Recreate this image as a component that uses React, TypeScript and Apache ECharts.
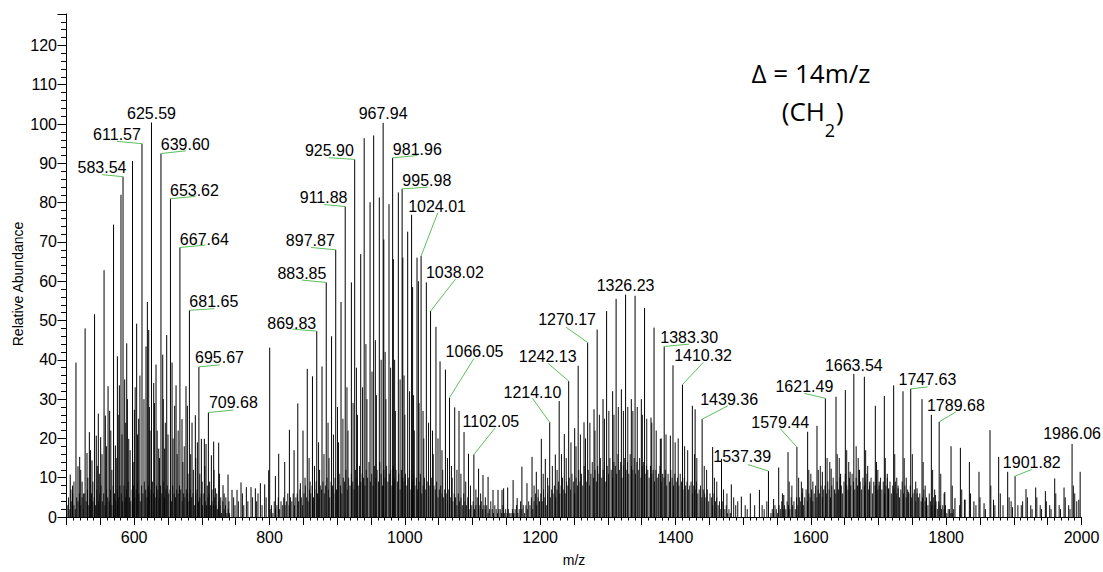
import React, { useEffect, useRef } from 'react';
import * as echarts from 'echarts';

// Annotated peaks: m/z and relative abundance
const labeledMz = [
  583.54, 611.57, 625.59, 639.6, 653.62, 667.64, 681.65, 695.67, 709.68,
  869.83, 883.85, 897.87, 911.88, 925.9, 967.94, 981.96, 995.98, 1024.01, 1038.02, 1066.05, 1102.05,
  1214.1, 1242.13, 1270.17, 1326.23, 1383.3, 1410.32, 1439.36,
  1537.39, 1579.44, 1621.49, 1663.54, 1747.63, 1789.68, 1901.82, 1986.06,
];
const labeledAb = [
  86.6, 95.0, 100.4, 92.5, 81.0, 68.6, 52.6, 38.2, 26.6,
  47.3, 59.7, 68.0, 79.0, 91.0, 100.3, 91.4, 83.5, 66.4, 52.4, 30.4, 15.9,
  24.1, 34.6, 44.4, 56.6, 43.4, 33.7, 24.9,
  11.7, 17.8, 30.2, 36.4, 32.6, 24.2, 10.4, 18.6,
];

// Unlabelled peaks [m/z, abundance], by region
const peaksLow: [number, number][] = [
  [505.5, 10.8], [509, 8], [514, 39.3], [517, 12.9], [519.5, 15.3], [523, 9], [527.48, 48], [530.3, 16.3],
  [533.8, 21.6], [537.7, 14.4], [541.49, 51.6], [544, 20.7], [547, 26.3], [550.5, 20.3], [555.51, 62.8],
  [557.4, 25.8], [561.4, 33.3], [563.8, 27], [569.53, 74.4], [572.2, 18.2], [575.2, 40.9], [578.1, 33.5],
  [580.5, 82], [586, 35], [589, 44.2], [592, 19.9], [597.56, 90.6], [600.3, 27.3], [603.7, 49.2],
  [606.7, 25], [617.5, 43.4], [619.5, 54.7], [621.5, 47.6], [628.9, 34.1], [632.3, 38.8], [636.3, 17.4],
  [642.2, 41.3], [645.1, 17.4], [648.1, 46.3], [656, 39.3], [659.9, 28.3], [661.9, 33.5], [670.7, 24.9],
  [676.6, 33.3], [678.6, 28.3], [685.5, 24], [690.4, 25.9], [693.4, 19], [699.3, 19.9], [703.7, 19.9],
  [706.2, 18.6], [714.1, 15.7], [717.5, 19.2], [720, 7.3], [724.9, 18.9], [731.3, 8.1], [738.7, 10.8],
  [744.6, 6.9], [752, 6.9], [757.9, 8.8], [765.8, 7.6], [772.7, 7.6], [779.1, 7.3], [786.5, 8.6],
  [792.9, 8.3], [798.8, 11.9], [800.3, 43.1], [808.7, 10.4], [813.6, 16.1], [822.5, 14], [829.4, 22.2],
  [836.3, 17], [841.8, 28.9], [845.6, 8.6],
];
const peaksMid: [number, number][] = [
  [849.5, 22], [855.81, 37.7], [863.5, 35.8], [877.6, 38.3], [891.7, 46], [905.7, 54.7], [921, 59.7],
  [934.8, 66.9], [939.92, 96.4], [948.6, 80.1], [953.93, 97.1], [962.3, 81.3], [968.9, 70.6], [976.6, 79.6],
  [983, 65.6], [990.4, 82.6], [997, 66], [1004.2, 72.6], [1009.99, 76.9], [1011.5, 58.5], [1018, 66],
  [1020, 60], [1031.8, 59.7], [1046, 48.4], [1052.03, 39.6], [1060, 37.5], [1073.7, 27.9], [1080.06, 27],
  [1087.5, 21.6], [1094.08, 16.1], [1109, 12.3], [1115.5, 10.7], [1123, 10.2], [1130.3, 6.9], [1137.7, 6.9],
  [1143.6, 6.9], [1146, 7.3], [1152, 7.5],
];
const peaksHigh: [number, number][] = [
  [1160, 9.4], [1166, 4.8], [1173, 12.8], [1180.5, 8.6], [1188, 15.3], [1194.3, 11.5], [1201.7, 19.9],
  [1207.6, 14.8], [1222.4, 15.9], [1228.11, 29.5], [1235.7, 21.1], [1251, 22.6], [1256.15, 38.5],
  [1264.8, 24.1], [1279.6, 27.4], [1284.2, 47.7], [1292.9, 30], [1298.2, 52.4], [1307.1, 32], [1312.21, 55.5],
  [1320, 32.5], [1334.7, 30], [1340.25, 56.3], [1349.5, 30], [1354.27, 53.2], [1363.8, 25.3], [1368.28, 48.2],
  [1377.6, 19.9], [1392.4, 20.7], [1396.3, 38.6], [1424.9, 28.3], [1429, 27.4], [1454.9, 17.8], [1468, 14.8],
  [1482.5, 8.3], [1497.3, 5.2], [1510.6, 6], [1524, 6.9],
];
const peaksTail: [number, number][] = [
  [1545, 4.6], [1552.5, 12.6], [1560, 5.6], [1566.3, 16.5], [1588, 7.3], [1595.3, 21.7], [1603, 9],
  [1609.1, 23.2], [1617, 11.5], [1630, 12.3], [1637.2, 30.6], [1644, 11], [1651, 32.3], [1658, 11.5],
  [1672, 12], [1679.1, 35.7], [1687, 9], [1695.3, 28.3], [1701, 9], [1708.6, 30.8], [1715, 7.3],
  [1722.4, 33.5], [1729, 7.3], [1736.2, 32], [1744, 6.4], [1757, 7.3], [1764.3, 30], [1771, 4.8],
  [1778.1, 26], [1784, 5.6], [1798, 6.4], [1807.2, 18], [1813, 4.8], [1821, 17.6], [1828, 4.4],
  [1834.3, 14], [1841, 4], [1848.5, 11.5], [1856, 3.5], [1864.8, 22.1], [1870, 4.4], [1877.6, 15.3],
  [1890.9, 11.5], [1918, 7.1], [1932.3, 7.5], [1946.6, 6.6], [1960.4, 9.8], [1974.2, 7.5], [1998, 11.5],
];

// Smaller side peaks between the main series
const sideLow: [number, number][] = [
  [506.5, 7], [511, 9], [521, 12], [525, 6], [531.5, 10], [535.5, 17], [539, 9], [545.5, 13], [548.5, 11],
  [552.5, 16], [559, 18], [565.5, 22], [567, 12], [573.5, 15], [576.5, 26], [582, 21], [587.5, 24], [590, 30],
  [594, 17], [599.5, 14], [601.5, 33], [605, 21], [608.5, 36], [614.5, 30], [622.5, 28], [623.5, 22],
  [630, 29], [634, 22], [637.5, 15], [643, 30], [646, 24], [650, 21], [657.5, 20], [663.5, 16], [665, 22],
  [672, 14], [674, 18], [679.5, 11], [683.5, 16], [687.5, 12], [691, 15], [697, 11], [700.5, 9], [704.5, 13],
  [708, 8], [711.5, 9], [715, 7], [718, 12], [722, 6], [726, 11], [728, 5], [733, 6], [735.5, 5], [740, 4],
  [747, 5], [749, 3], [754, 4], [760, 6], [762, 3], [768, 4], [775, 5], [781, 4], [783, 6], [789, 3], [795, 5],
];
const sideMid: [number, number][] = [
  [852.5, 10], [858.5, 15], [860, 9], [866.5, 13], [872.5, 19], [874, 12], [880.5, 16], [886.5, 24], [888, 15],
  [894.5, 21], [900.5, 28], [902, 19], [908.5, 25], [914.5, 33], [916, 22], [923.5, 29], [928.5, 38], [930, 26],
  [937.5, 33], [942.5, 44], [944, 30], [951.5, 37], [956.5, 45], [958, 31], [965, 40], [970.9, 42], [972, 30],
  [979, 38], [984.9, 40], [986, 27], [993, 35], [998.9, 36], [1000, 26], [1007, 32], [1012.9, 31], [1014, 22],
  [1021, 29], [1026.9, 27], [1028, 20], [1035, 24], [1040.9, 22], [1042, 16], [1049, 20], [1054.9, 17],
  [1056, 12], [1063, 15], [1068.9, 13], [1070, 10], [1077, 12], [1082.9, 11], [1090, 9], [1097, 8],
  [1105, 7], [1112, 6], [1119, 5],
];
const sideHigh: [number, number][] = [
  [1191, 8], [1197, 7], [1204.5, 11], [1211, 10], [1218, 13], [1225, 12], [1231.5, 16], [1238.5, 15],
  [1245.5, 19], [1253, 18], [1259.5, 21], [1267, 20], [1273.5, 24], [1281, 22], [1287.5, 26], [1295, 25],
  [1301.5, 27], [1309, 26], [1315.5, 28], [1323, 27], [1329.5, 28], [1337, 27], [1343.5, 28], [1351, 26],
  [1357.5, 25], [1365, 24], [1371.5, 22], [1379, 20], [1386, 21], [1399.5, 19], [1404, 20], [1413.5, 18],
  [1418, 17], [1428, 16], [1431.5, 15], [1442.5, 13], [1446, 12], [1457.5, 10], [1461, 9], [1471, 7],
  [1476, 6], [1486, 5], [1489, 3], [1492, 4], [1503, 3], [1506, 2], [1517, 3], [1528, 3], [1531, 2], [1535, 4],
];
const sideTail: [number, number][] = [
  [1558, 6], [1568, 9], [1572, 8], [1582, 10], [1586, 9], [1597, 12], [1600, 11], [1611, 12], [1614, 13],
  [1624, 15], [1628, 14], [1639, 16], [1642, 15], [1653, 17], [1656, 14], [1667, 18], [1670, 15], [1681, 17],
  [1684, 13], [1697, 14], [1699, 12], [1710, 15], [1713, 11], [1724, 16], [1727, 10], [1738, 15], [1741, 10],
  [1750, 16], [1755, 9], [1766, 14], [1769, 8], [1780, 12], [1783, 7], [1792, 11], [1797, 6], [1809, 8],
  [1820, 3], [1823, 7], [1827, 4.4], [1836, 6], [1844, 3], [1850, 5], [1858, 2], [1866, 8], [1872, 3],
  [1880, 6], [1884, 3], [1893, 5], [1896, 4], [1898, 2.5], [1906, 3], [1911, 3], [1913, 4], [1920, 5],
  [1925, 3], [1927, 2], [1934, 5], [1939, 3], [1941, 2], [1948, 4], [1953, 3], [1955, 2], [1962, 6],
  [1967, 3], [1969, 2], [1976, 5], [1981, 3], [1983, 2], [1988, 8], [1990, 6], [1993, 4], [1996, 4.4],
];

// Dense low-level signal, sampled every 2 m/z from each start value
const floorStep = 2;
const floorAStart = 501;
const floorA = [
  3, 5, 2, 4, 6, 3, 2, 5, 4, 6, 3, 5, 2, 6, 4, 7, 3, 5, 6, 4, 5, 3, 7, 4, 6, 8, 4, 6, 3, 7,
  5, 4, 7, 3, 8, 6, 4, 7, 5, 8, 6, 4, 8, 5, 7, 9, 5, 4, 7, 8, 5, 7, 9, 6, 4, 8, 6, 9, 7, 5,
  8, 6, 7, 9, 6, 5, 8, 7, 5, 8, 6, 9, 5, 7, 8, 6, 7, 4, 8, 6, 5, 7, 6, 8, 7, 4, 6, 5, 7, 6,
  4, 7, 5, 6, 3, 6, 7, 4, 5, 6, 3, 6, 4, 3, 5, 6, 3, 4, 3, 5, 3, 2, 4, 3, 1, 4, 2, 3, 1, 2, 1,
];
const floorBStart = 801;
const floorB = [
  2, 3, 1, 4, 2, 3, 5, 2, 4, 3, 5, 3, 4, 6, 3, 5, 4, 6, 3, 5, 6, 4, 7, 5, 3, 6, 8, 5, 4, 7,
  6, 8, 5, 7, 9, 6, 5, 8, 7, 9, 6, 8, 10, 7, 5, 9, 8, 6, 10, 7, 9, 11, 8, 6, 10, 9, 12, 7, 10, 8,
  11, 9, 7, 12, 10, 8, 13, 9, 11, 10, 8, 12, 10, 14, 9, 11, 8, 13, 10, 12, 9, 14, 11, 8, 12, 10, 13, 9, 11, 12,
  8, 13, 10, 12, 9, 11, 7, 12, 10, 9, 11, 8, 10, 12, 7, 9, 11, 8, 10, 7, 9, 11, 6, 8, 10, 7, 9, 6, 8, 10,
  6, 8, 7, 9, 5, 7, 8, 6, 5, 7, 6, 4, 7, 5, 6, 4, 6, 5, 3, 6, 4, 5, 3, 6, 4, 3, 5, 2, 4, 3,
  4, 2, 3, 5, 2, 3, 4, 2, 3, 2, 3, 1, 2, 4, 2, 1, 3, 2, 1, 2, 2, 1, 3, 1, 2, 1, 2, 1, 1, 2, 1,
];
const floorCStart = 1161;
const floorC = [
  1, 2, 3, 1, 2, 4, 2, 3, 1, 3, 2, 4, 3, 5, 2, 4, 6, 3, 5, 4, 6, 4, 7, 5, 3, 6, 8, 5, 7, 6,
  8, 5, 7, 9, 6, 8, 10, 7, 6, 9, 8, 10, 7, 11, 9, 6, 10, 8, 12, 9, 11, 8, 13, 10, 9, 12, 8, 11, 14, 10,
  12, 9, 13, 11, 15, 10, 12, 14, 9, 13, 11, 15, 12, 10, 14, 13, 11, 16, 12, 14, 10, 13, 15, 12, 14, 11, 16, 13, 12, 15,
  11, 14, 12, 15, 10, 13, 14, 11, 13, 12, 10, 13, 11, 12, 9, 12, 10, 11, 13, 9, 11, 10, 12, 8, 11, 9, 12, 10, 8, 11,
  9, 10, 8, 11, 9, 7, 10, 8, 9, 7, 8, 9, 6, 8, 7, 9, 6, 7, 8, 5, 7, 6, 5, 7, 4, 6, 5, 3, 6, 4,
  5, 3, 4, 2, 4, 3, 2, 3, 1, 2, 1,
];
const floorDStart = 1541;
const floorD = [
  1, 2, 1, 3, 2, 1, 3, 2, 4, 2, 3, 2, 4, 3, 2, 5, 3, 4, 2, 5, 3, 5, 4, 6, 3, 5, 7, 4, 6, 5,
  7, 4, 6, 8, 5, 7, 6, 8, 5, 7, 8, 6, 9, 7, 5, 8, 10, 7, 6, 9, 7, 10, 8, 6, 9, 11, 8, 7, 10, 8,
  11, 9, 7, 10, 8, 12, 9, 7, 10, 8, 9, 11, 7, 8, 10, 6, 9, 8, 10, 7, 8, 10, 7, 9, 6, 8, 10, 7, 9, 6,
  8, 7, 9, 6, 8, 5, 7, 9, 6, 8, 5, 7, 6, 8, 5, 6, 7, 4, 6, 5, 6, 4, 5, 7, 4, 5, 3, 6, 4, 3,
  5, 3, 4, 2, 4, 3, 2, 3, 2, 3, 1, 2, 2, 1, 1, 2,
];

// Placement of each annotation relative to its peak top: text centre (dx, dy), leader end (ex, ey)
const labelLayout: Record<string, number[]> = {
  '583.54': [-21, -8.7, -20.7, -2],
  '611.57': [-25, -9, -25, -2.3],
  '625.59': [0, -9.4],
  '639.60': [24.3, -9.3, 25, -2.7],
  '653.62': [24, -8.3, 25, -2.3],
  '667.64': [24.4, -7.7, 25.4, -2.3],
  '681.65': [24.4, -9, 25, -1.6],
  '695.67': [20.6, -9.7, 20.6, -2],
  '709.68': [25, -10, 25, -2.4],
  '869.83': [-25, -7.6, -24.3, -2],
  '883.85': [-24.3, -9.3, -24.3, -2.3],
  '897.87': [-25.4, -9.6, -24.7, -2.3],
  '911.88': [-21.6, -9.3, -21, -2],
  '925.90': [-25.3, -8.4, -25.7, -1.7],
  '967.94': [0, -9.7],
  '981.96': [24.7, -8, 24.7, -2.3],
  '995.98': [24.7, -8.4, 25.4, -1.7],
  '1024.01': [16, -50, 16.7, -43.3],
  '1038.02': [24.3, -39, 25, -32],
  '1066.05': [25, -46, 24.4, -39],
  '1102.05': [17, -32.6, 21.3, -26.6],
  '1214.10': [-17.3, -30, -17.3, -24],
  '1242.13': [-21, -24.3, -20.6, -17.7],
  '1270.17': [-20.6, -22.7, -21.6, -15.3],
  '1326.23': [0, -9],
  '1383.30': [25, -9, 25, -2.3],
  '1410.32': [20.6, -29, 21, -22.3],
  '1439.36': [27, -20, 25.7, -13.3],
  '1537.39': [-26.3, -14.7, -20.6, -6.4],
  '1579.44': [-16.7, -24.4, -16.7, -18.4],
  '1621.49': [-21, -11.6, -21, -5],
  '1663.54': [0, -8.7],
  '1747.63': [16.7, -9.4, 16.7, -2],
  '1789.68': [16.7, -16.7, 16.7, -10],
  '1901.82': [16.7, -13.7, 16.7, -6.7],
  '1986.06': [0, -10],
};

const FONT = '"Liberation Sans", Arial, Helvetica, sans-serif';
const NOTE_FONT = '"Open Sans", "Noto Sans", sans-serif';
const LEADER = '#5cbf5c';

const floorData = (start: number, values: number[]) =>
  values.map((v, i) => [start + i * floorStep, v]);

const stick = (color: string) => (_params: any, api: any) => {
  const x = api.value(0);
  const y = api.value(1);
  const base = api.coord([x, 0]);
  const top = api.coord([x, y]);
  return {
    type: 'line',
    silent: true,
    shape: { x1: base[0], y1: base[1], x2: top[0], y2: top[1] },
    style: { stroke: color, lineWidth: 1 },
  };
};

const stickSeries = (name: string, data: number[][], color: string, z: number) => ({
  type: 'custom',
  name,
  coordinateSystem: 'cartesian2d',
  renderItem: stick(color),
  data,
  z,
  silent: true,
});

export default function App() {
  const ref = useRef<HTMLDivElement>(null);

  useEffect(() => {
    if (!ref.current) return;
    const chart = echarts.init(ref.current, null, { renderer: 'svg' });

    const labeledData = labeledMz.map((m, i) => [m, labeledAb[i]]);

    const option: any = {
      animation: false,
      backgroundColor: '#fff',
      grid: { left: 66.5, right: 21.5, top: 14, bottom: 50, containLabel: false },
      xAxis: {
        type: 'value',
        min: 500,
        max: 2000,
        interval: 50,
        name: 'm/z',
        nameLocation: 'middle',
        nameGap: 36,
        nameTextStyle: { fontFamily: FONT, fontSize: 14, color: '#000' },
        axisLine: { show: true, lineStyle: { color: '#000', width: 1 } },
        axisTick: { show: true, length: 8, lineStyle: { color: '#000' } },
        minorTick: { show: true, splitNumber: 5, length: 3.5, lineStyle: { color: '#000' } },
        splitLine: { show: false },
        axisLabel: {
          interval: 0,
          margin: 12,
          fontFamily: FONT,
          fontSize: 16,
          color: '#000',
          formatter: (v: number) => (v % 200 === 0 ? String(v) : ''),
        },
      },
      yAxis: {
        type: 'value',
        min: 0,
        max: 128,
        interval: 10,
        axisLine: { show: true, lineStyle: { color: '#000', width: 1 } },
        axisTick: { show: true, length: 9, lineStyle: { color: '#000' } },
        minorTick: { show: true, splitNumber: 5, length: 5.5, lineStyle: { color: '#000' } },
        splitLine: { show: false },
        axisLabel: {
          margin: 9.5,
          fontFamily: FONT,
          fontSize: 16,
          color: '#000',
          formatter: (v: number) => (v % 10 === 0 ? String(v) : ''),
        },
      },
      series: [
        stickSeries('floorA', floorData(floorAStart, floorA), '#1e1e1e', 1),
        stickSeries('floorB', floorData(floorBStart, floorB), '#1e1e1e', 1),
        stickSeries('floorC', floorData(floorCStart, floorC), '#1e1e1e', 1),
        stickSeries('floorD', floorData(floorDStart, floorD), '#1e1e1e', 1),
        stickSeries('sideLow', sideLow, '#111', 2),
        stickSeries('sideMid', sideMid, '#111', 2),
        stickSeries('sideHigh', sideHigh, '#111', 2),
        stickSeries('sideTail', sideTail, '#111', 2),
        stickSeries('peaksLow', peaksLow, '#000', 3),
        stickSeries('peaksMid', peaksMid, '#000', 3),
        stickSeries('peaksHigh', peaksHigh, '#000', 3),
        stickSeries('peaksTail', peaksTail, '#000', 3),
        {
          type: 'custom',
          name: 'labeled',
          coordinateSystem: 'cartesian2d',
          data: labeledData,
          z: 4,
          silent: true,
          renderItem: (params: any, api: any) => {
            const x = api.value(0);
            const y = api.value(1);
            const base = api.coord([x, 0]);
            const top = api.coord([x, y]);
            const text = labeledMz[params.dataIndex].toFixed(2);
            const lay = labelLayout[text] || [0, -10];
            const children: any[] = [
              {
                type: 'line',
                shape: { x1: base[0], y1: base[1], x2: top[0], y2: top[1] },
                style: { stroke: '#000', lineWidth: 1 },
              },
            ];
            if (lay.length === 4) {
              children.push({
                type: 'line',
                shape: { x1: top[0], y1: top[1], x2: top[0] + lay[2], y2: top[1] + lay[3] },
                style: { stroke: LEADER, lineWidth: 1 },
              });
            }
            children.push({
              type: 'text',
              x: top[0] + lay[0],
              y: top[1] + lay[1],
              style: {
                text,
                fontFamily: FONT,
                fontSize: 16,
                fill: '#000',
                align: 'center',
                verticalAlign: 'middle',
              },
            });
            return { type: 'group', children };
          },
        },
      ],
      graphic: [
        {
          type: 'text',
          x: 18,
          y: 284,
          rotation: Math.PI / 2,
          style: {
            text: 'Relative Abundance',
            fontFamily: FONT,
            fontSize: 14,
            fill: '#000',
            align: 'center',
            verticalAlign: 'middle',
          },
        },
        {
          type: 'text',
          x: 811,
          y: 73,
          style: {
            text: 'Δ = 14m/z',
            fontFamily: NOTE_FONT,
            fontSize: 26,
            fill: '#000',
            align: 'center',
            verticalAlign: 'middle',
          },
        },
        {
          type: 'text',
          x: 825,
          y: 111,
          style: {
            text: '(CH',
            fontFamily: NOTE_FONT,
            fontSize: 26,
            fill: '#000',
            align: 'right',
            verticalAlign: 'middle',
          },
        },
        {
          type: 'text',
          x: 830,
          y: 130,
          style: {
            text: '2',
            fontFamily: NOTE_FONT,
            fontSize: 18,
            fill: '#000',
            align: 'center',
            verticalAlign: 'middle',
          },
        },
        {
          type: 'text',
          x: 836,
          y: 111,
          style: {
            text: ')',
            fontFamily: NOTE_FONT,
            fontSize: 26,
            fill: '#000',
            align: 'left',
            verticalAlign: 'middle',
          },
        },
      ],
    };

    chart.setOption(option);
    return () => chart.dispose();
  }, []);

  return (
    <div
      ref={ref}
      style={{ position: 'fixed', left: 0, top: 0, width: 1103, height: 572, background: '#fff' }}
    />
  );
}
